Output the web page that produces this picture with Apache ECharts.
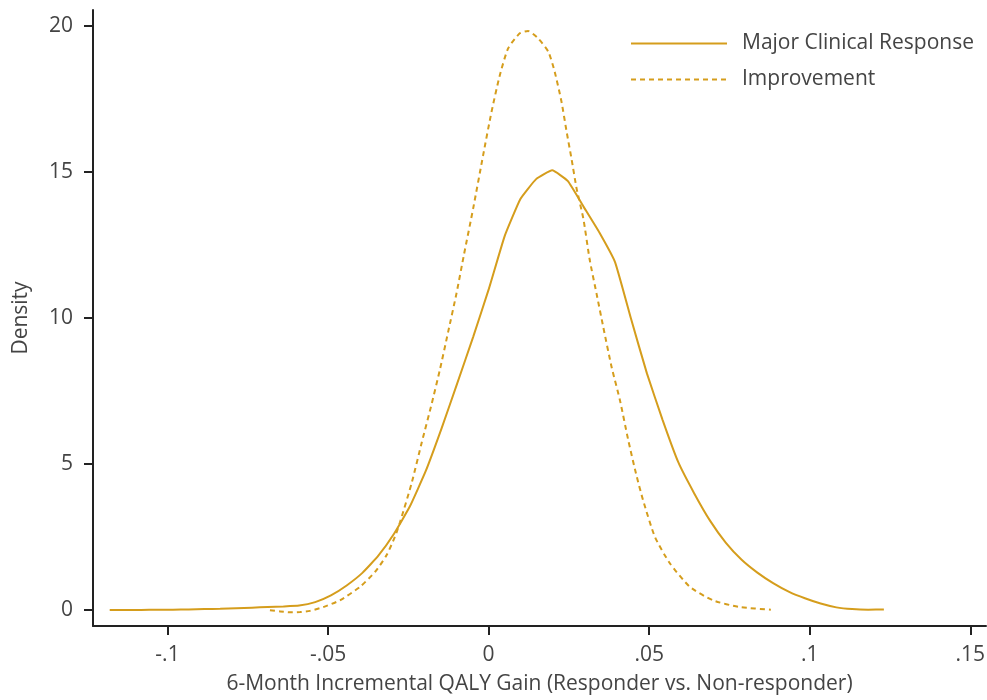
<!DOCTYPE html>
<html>
<head>
<meta charset="utf-8">
<script src="https://cdn.jsdelivr.net/npm/echarts@6/dist/echarts.min.js"></script>
<style>
  html, body { margin: 0; padding: 0; background: #fff; }
  #chart { width: 987px; height: 700px; }
</style>
</head>
<body>
<div id="chart"></div>
<script>
// Major Clinical Response density (solid)
const mcrX = [-0.1180, -0.1131, -0.1082, -0.1032, -0.0983, -0.0934, -0.0885, -0.0836, -0.0786, -0.0737,
  -0.0688, -0.0639, -0.0590, -0.0540, -0.0491, -0.0442, -0.0393, -0.0344, -0.0294, -0.0245,
  -0.0196, -0.0147, -0.0098, -0.0048, 0.0001, 0.0050, 0.0099, 0.0148, 0.0198, 0.0247,
  0.0296, 0.0345, 0.0394, 0.0444, 0.0493, 0.0542, 0.0591, 0.0640, 0.0690, 0.0739,
  0.0788, 0.0837, 0.0886, 0.0936, 0.0985, 0.1034, 0.1083, 0.1132, 0.1182, 0.1231];
const mcrY = [0.00, 0.00, 0.00, 0.01, 0.01, 0.02, 0.03, 0.04, 0.06, 0.08,
  0.10, 0.12, 0.15, 0.27, 0.50, 0.84, 1.27, 1.85, 2.62, 3.55,
  4.75, 6.20, 7.75, 9.35, 11.00, 12.80, 14.07, 14.75, 15.05, 14.68,
  13.80, 12.92, 11.90, 9.95, 8.10, 6.50, 5.05, 4.00, 3.05, 2.30,
  1.72, 1.28, 0.92, 0.62, 0.40, 0.22, 0.09, 0.03, 0.01, 0.02];

// Improvement density (dashed)
const impX = [-0.0681, -0.0649, -0.0619, -0.0587, -0.0556, -0.0515, -0.0463, -0.0401, -0.0354, -0.0318,
  -0.0292, -0.0276, -0.0240, -0.0209, -0.0177, -0.0152, -0.0126, -0.0100, -0.0077, -0.0048,
  -0.0017, 0.0009, 0.0035, 0.0061, 0.0097, 0.0123, 0.0154, 0.0186, 0.0206, 0.0227,
  0.0243, 0.0258, 0.0274, 0.0295, 0.0315, 0.0336, 0.0357, 0.0383, 0.0409, 0.0435,
  0.0459, 0.0481, 0.0518, 0.0565, 0.0627, 0.0699, 0.0782, 0.0879];
const impY = [-0.01, -0.05, -0.08, -0.07, -0.03, 0.10, 0.33, 0.79, 1.30, 1.87,
  2.50, 3.00, 4.33, 5.70, 7.07, 8.21, 9.52, 10.84, 12.15, 13.75,
  15.57, 17.05, 18.31, 19.23, 19.74, 19.82, 19.57, 19.11, 18.42, 17.40,
  16.37, 15.46, 14.43, 13.40, 11.98, 10.84, 9.69, 8.32, 7.18, 5.81,
  4.67, 3.76, 2.50, 1.59, 0.79, 0.33, 0.10, 0.01];

const seriesNames = ['Major Clinical Response', 'Improvement'];

const xTickValues = [-0.1, -0.05, 0, 0.05, 0.1, 0.15];
const xTickLabels = ['-.1', '-.05', '0', '.05', '.1', '.15'];
const yTickValues = [0, 5, 10, 15, 20];
const yTickLabels = ['0', '5', '10', '15', '20'];

const gold = '#d59d1c';
const textColor = '#444';
const axisColor = '#222';
const font = 'Open Sans';
const fs = 21;

const chart = echarts.init(document.getElementById('chart'));

const pairs = (xs, ys) => xs.map((x, i) => [x, ys[i]]);

const option = {
  animation: false,
  textStyle: { fontFamily: font },
  grid: {
    left: 93,
    right: 1,
    top: 10,
    bottom: 74,
    containLabel: false,
    outerBoundsMode: 'none'
  },
  legend: {
    orient: 'vertical',
    left: 630,
    top: 33,
    padding: 0,
    itemWidth: 96,
    itemHeight: 21,
    itemGap: 15,
    data: seriesNames,
    itemStyle: { opacity: 0 },
    textStyle: {
      fontFamily: font,
      fontSize: fs,
      color: textColor,
      lineHeight: 21,
      padding: [0, 0, 0, 10]
    }
  },
  xAxis: {
    type: 'value',
    min: -0.1232,
    max: 0.1549,
    name: '6-Month Incremental QALY Gain (Responder vs. Non-responder)',
    nameLocation: 'middle',
    nameGap: 48,
    nameTextStyle: { fontFamily: font, fontSize: fs, color: textColor },
    splitLine: { show: false },
    axisLine: { onZero: false, lineStyle: { color: axisColor, width: 2 } },
    axisTick: {
      customValues: xTickValues,
      length: 9,
      lineStyle: { color: axisColor, width: 2 }
    },
    axisLabel: {
      customValues: xTickValues,
      margin: 19,
      fontFamily: font,
      fontSize: fs,
      color: textColor,
      formatter: (v) => xTickLabels[xTickValues.findIndex(t => Math.abs(t - v) < 1e-9)]
    }
  },
  yAxis: {
    type: 'value',
    min: -0.548,
    max: 20.54,
    name: 'Density',
    nameLocation: 'middle',
    nameGap: 61,
    nameTextStyle: { fontFamily: font, fontSize: fs, color: textColor },
    splitLine: { show: false },
    axisLine: { show: true, onZero: false, lineStyle: { color: axisColor, width: 2 } },
    axisTick: {
      show: true,
      customValues: yTickValues,
      length: 9,
      lineStyle: { color: axisColor, width: 2 }
    },
    axisLabel: {
      customValues: yTickValues,
      margin: 20,
      fontFamily: font,
      fontSize: fs,
      color: textColor,
      formatter: (v) => yTickLabels[yTickValues.findIndex(t => Math.abs(t - v) < 1e-9)]
    }
  },
  series: [
    {
      name: seriesNames[0],
      type: 'line',
      data: pairs(mcrX, mcrY),
      symbol: 'none',
      showSymbol: false,
      smooth: 0.12,
      lineStyle: { color: gold, width: 2 },
      itemStyle: { color: gold }
    },
    {
      name: seriesNames[1],
      type: 'line',
      data: pairs(impX, impY),
      symbol: 'none',
      showSymbol: false,
      smooth: 0.2,
      lineStyle: { color: gold, width: 2, type: [5, 4] },
      itemStyle: { color: gold }
    }
  ]
};

chart.setOption(option);
</script>
</body>
</html>
